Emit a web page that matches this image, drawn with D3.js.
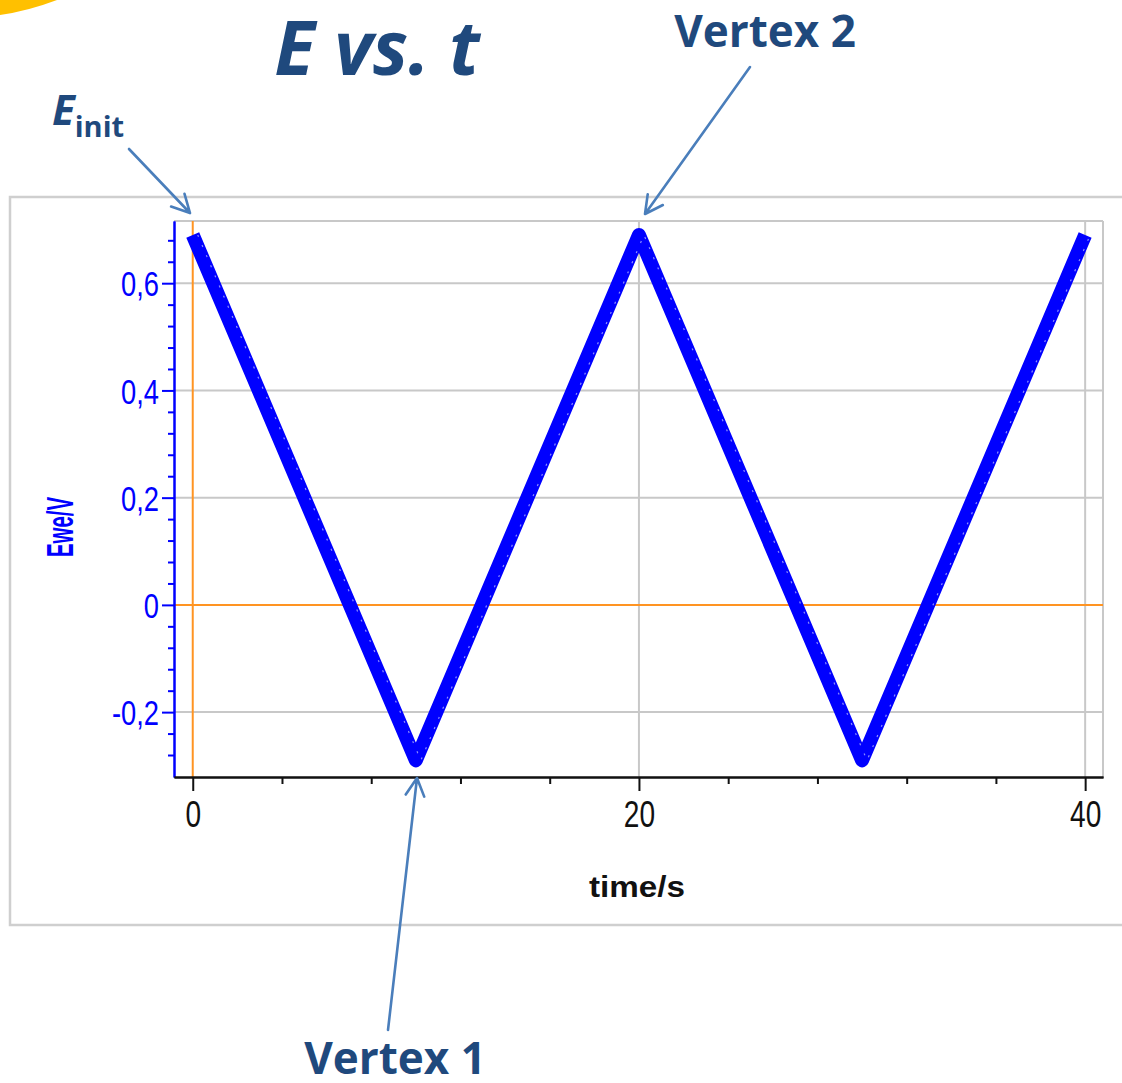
<!DOCTYPE html>
<html>
<head>
<meta charset="UTF-8" />
<title>E vs. t</title>
<script src="https://cdn.jsdelivr.net/npm/d3@7"></script>
<style>
  body { margin: 0; background: #fff; }
</style>
</head>
<body>
<div id="chart"></div>
<script>
// triangle sweep vertices (time in s, potential in V)
var times = [0, 10, 20, 30, 40];
var potentials = [0.69, -0.29, 0.69, -0.29, 0.69];

var yMajor = [-0.2, 0, 0.2, 0.4, 0.6];
var yTickLabels = ["-0,2", "0", "0,2", "0,4", "0,6"];
var yMinor = [-0.28, -0.24, -0.16, -0.12, -0.08, -0.04, 0.04, 0.08, 0.12, 0.16,
              0.24, 0.28, 0.32, 0.36, 0.44, 0.48, 0.52, 0.56, 0.64, 0.68];
var xMajor = [0, 20, 40];
var xTickLabels = ["0", "20", "40"];
var xMinor = [4, 8, 12, 16, 24, 28, 32, 36];

var W = 1122, H = 1083;
var plotLeft = 174, plotRight = 1103, plotTop = 221, plotBottom = 777;
var darkBlue = "#1f497d", arrowBlue = "#4a7ebb";

var svg = d3.select("#chart").append("svg").attr("width", W).attr("height", H);

var x = d3.scaleLinear().domain([-0.84, 40.8]).range([plotLeft, plotRight]);
var y = d3.scaleLinear().domain([-0.321, 0.716]).range([plotBottom, plotTop]);

// yellow swoosh in the corner
svg.append("path").attr("d", "M0,0 H57 Q28,11 0,15 Z").attr("fill", "#ffc000");

// outer frame
svg.append("rect").attr("x", 10).attr("y", 197).attr("width", W).attr("height", 728)
  .attr("fill", "#fff").attr("stroke", "#cfcfcf").attr("stroke-width", 2.5);

// grid
var grid = svg.append("g").attr("stroke", "#c8c8c8").attr("stroke-width", 2);
grid.selectAll(".gy").data(yMajor.filter(function(d){ return d !== 0; })).enter().append("line")
  .attr("x1", plotLeft).attr("x2", plotRight).attr("y1", y).attr("y2", y);
grid.selectAll(".gx").data(xMajor.filter(function(d){ return d !== 0; })).enter().append("line")
  .attr("x1", x).attr("x2", x).attr("y1", plotTop).attr("y2", plotBottom);
grid.append("line").attr("x1", plotLeft).attr("x2", plotRight).attr("y1", plotTop).attr("y2", plotTop);
grid.append("line").attr("x1", plotRight).attr("x2", plotRight).attr("y1", plotTop).attr("y2", plotBottom);

// zero lines
svg.append("line").attr("x1", plotLeft).attr("x2", plotRight).attr("y1", y(0)).attr("y2", y(0))
  .attr("stroke", "#ff9422").attr("stroke-width", 2);
svg.append("line").attr("x1", x(0)).attr("x2", x(0)).attr("y1", plotTop).attr("y2", plotBottom)
  .attr("stroke", "#ff9422").attr("stroke-width", 2);

// data
var line = d3.line().x(function(d){ return x(d[0]); }).y(function(d){ return y(d[1]); });
svg.append("path").datum(d3.zip(times, potentials)).attr("d", line)
  .attr("fill", "none").attr("stroke", "#0000ff").attr("stroke-width", 14)
  .attr("stroke-linejoin", "round");
svg.append("path").datum(d3.zip(times, potentials)).attr("d", line)
  .attr("fill", "none").attr("stroke", "#8c8cff").attr("stroke-width", 1.2)
  .attr("stroke-dasharray", "2 9").attr("transform", "translate(5,0)");

// y axis
var yAxisMinor = svg.append("g").attr("transform", "translate(" + plotLeft + ",0)")
  .call(d3.axisLeft(y).tickValues(yMinor).tickSize(6).tickSizeOuter(0).tickFormat(""));
var yAxis = svg.append("g").attr("transform", "translate(" + plotLeft + ",0)")
  .call(d3.axisLeft(y).tickValues(yMajor).tickSize(12).tickSizeOuter(0)
    .tickFormat(function(d, i){ return yTickLabels[i]; }));
[yAxisMinor, yAxis].forEach(function(g){
  g.selectAll("path, line").attr("stroke", "#0000ff").attr("stroke-width", 2);
});
yAxis.selectAll("text").attr("fill", "#0000ff").attr("font-family", "Liberation Sans, Arial, sans-serif")
  .attr("font-size", 35).attr("x", -15 / 0.78).attr("dy", "0.36em")
  .attr("transform", "scale(0.78,1)");

// x axis
var xAxisMinor = svg.append("g").attr("transform", "translate(0," + plotBottom + ")")
  .call(d3.axisBottom(x).tickValues(xMinor).tickSize(7).tickSizeOuter(0).tickFormat(""));
var xAxis = svg.append("g").attr("transform", "translate(0," + plotBottom + ")")
  .call(d3.axisBottom(x).tickValues(xMajor).tickSize(14).tickSizeOuter(0)
    .tickFormat(function(d, i){ return xTickLabels[i]; }));
[xAxisMinor, xAxis].forEach(function(g){
  g.selectAll("path, line").attr("stroke", "#111").attr("stroke-width", 2);
});
xAxis.selectAll("text").attr("fill", "#111").attr("font-family", "Liberation Sans, Arial, sans-serif")
  .attr("font-size", 37).attr("y", 50).attr("dy", 0).attr("x", 0)
  .attr("transform", "scale(0.76,1)");

// axis titles
svg.append("text").attr("x", 637).attr("y", 897).attr("text-anchor", "middle")
  .attr("font-family", "Liberation Sans, Arial, sans-serif").attr("font-weight", "bold")
  .attr("font-size", 30).attr("fill", "#111")
  .attr("textLength", 96).attr("lengthAdjust", "spacingAndGlyphs").text("time/s");
svg.append("text").attr("transform", "translate(73,527) rotate(-90)").attr("text-anchor", "middle")
  .attr("font-family", "Liberation Sans, Arial, sans-serif").attr("font-weight", "bold")
  .attr("font-size", 37).attr("fill", "#0000ff")
  .attr("textLength", 60).attr("lengthAdjust", "spacingAndGlyphs").text("Ewe/V");

// title
svg.append("text").attr("x", 377).attr("y", 75).attr("text-anchor", "middle")
  .attr("font-family", "Open Sans, sans-serif").attr("font-weight", "bold").attr("font-style", "italic")
  .attr("font-size", 75).attr("fill", darkBlue).text("E vs. t");

// annotations
var einit = svg.append("text").attr("x", 52).attr("y", 125)
  .attr("font-family", "Open Sans, sans-serif").attr("font-weight", "bold").attr("fill", darkBlue);
einit.append("tspan").attr("font-size", 42).attr("font-style", "italic").text("E");
einit.append("tspan").attr("font-size", 29).attr("dy", 12).text("init");

svg.append("text").attr("x", 765).attr("y", 47).attr("text-anchor", "middle")
  .attr("font-family", "Open Sans, sans-serif").attr("font-weight", "bold")
  .attr("font-size", 44).attr("fill", darkBlue).text("Vertex 2");
svg.append("text").attr("x", 395).attr("y", 1074).attr("text-anchor", "middle")
  .attr("font-family", "Open Sans, sans-serif").attr("font-weight", "bold")
  .attr("font-size", 44).attr("fill", darkBlue).text("Vertex 1");

var arrows = [
  { from: [129, 149], to: [190, 213] },
  { from: [750, 67], to: [645, 214] },
  { from: [388, 1030], to: [417, 778] }
];
arrows.forEach(function(a){
  var dx = a.to[0] - a.from[0], dy = a.to[1] - a.from[1];
  var ang = Math.atan2(dy, dx), len = 20, spread = Math.PI / 6.5;
  var p1 = [a.to[0] - len * Math.cos(ang - spread), a.to[1] - len * Math.sin(ang - spread)];
  var p2 = [a.to[0] - len * Math.cos(ang + spread), a.to[1] - len * Math.sin(ang + spread)];
  svg.append("path")
    .attr("d", "M" + a.from + "L" + a.to + "M" + p1 + "L" + a.to + "L" + p2)
    .attr("fill", "none").attr("stroke", arrowBlue).attr("stroke-width", 2.6)
    .attr("stroke-linecap", "round").attr("stroke-linejoin", "round");
});
</script>
</body>
</html>
